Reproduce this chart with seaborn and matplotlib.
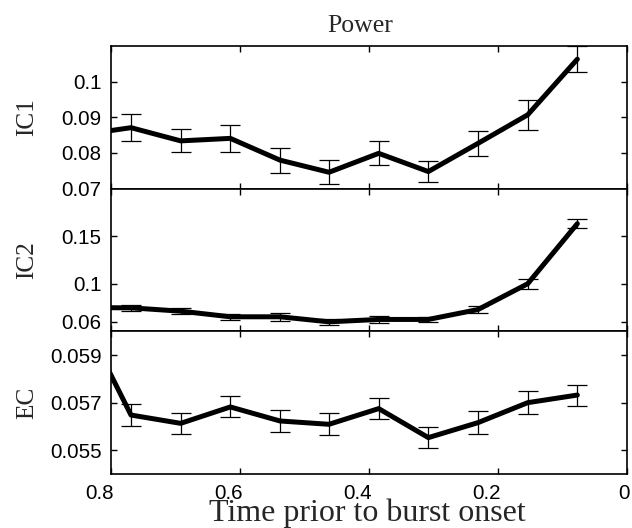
import matplotlib
matplotlib.use("Agg")
import matplotlib.pyplot as plt
import seaborn as sns
import pandas as pd
from matplotlib.transforms import ScaledTranslation

# ---- data ----
times = [0.077, 0.154, 0.231, 0.308, 0.385, 0.462, 0.538, 0.615, 0.692, 0.769, 0.846]

ic1 = [0.1063, 0.0907, 0.0827, 0.0748, 0.0799, 0.0746, 0.0780, 0.0841, 0.0834, 0.0871, 0.0851]
ic1_err = [0.0037, 0.0042, 0.0035, 0.0030, 0.0034, 0.0034, 0.0035, 0.0038, 0.0032, 0.0038, 0.0038]

ic2 = [0.1632, 0.1000, 0.0729, 0.0625, 0.0625, 0.0600, 0.0653, 0.0653, 0.0712, 0.0747, 0.0750]
ic2_err = [0.0048, 0.0050, 0.0040, 0.0030, 0.0040, 0.0030, 0.0040, 0.0030, 0.0030, 0.0035, 0.0035]

ec = [0.05732, 0.05700, 0.05616, 0.05553, 0.05675, 0.05609, 0.05623, 0.05682, 0.05613, 0.05648, 0.06065]
ec_err = [0.00044, 0.00047, 0.00047, 0.00044, 0.00045, 0.00046, 0.00047, 0.00044, 0.00045, 0.00048, 0.00050]

panel_names = ["IC1", "IC2", "EC"]
ylims = [(0.07, 0.11), (0.05, 0.20), (0.054, 0.060)]
yticks = [[0.07, 0.08, 0.09, 0.1], [0.06, 0.1, 0.15], [0.055, 0.057, 0.059]]
yticklabels = [["0.07", "0.08", "0.09", "0.1"], ["0.06", "0.1", "0.15"], ["0.055", "0.057", "0.059"]]
xticks = [0.8, 0.6, 0.4, 0.2, 0]
xticklabels = ["0.8", "0.6", "0.4", "0.2", "0"]
title = "Power"
xlabel = "Time prior to burst onset"

series = [(ic1, ic1_err), (ic2, ic2_err), (ec, ec_err)]

# ---- style ----
sns.set_style("ticks")
plt.rcParams["font.family"] = ["Liberation Sans", "DejaVu Sans"]
plt.rcParams["axes.linewidth"] = 1.2

W, H = 632, 528
fig = plt.figure(figsize=(W / 100, H / 100), dpi=100)
left_px, right_px = 111, 627
top_px, bottom_px = 46, 474
ph = (bottom_px - top_px) / 3

axes = []
for i, ((vals, errs), name) in enumerate(zip(series, panel_names)):
    t = top_px + i * ph
    ax = fig.add_axes([left_px / W, 1 - (t + ph) / H, (right_px - left_px) / W, ph / H])
    axes.append(ax)
    df = pd.DataFrame({"time": times, "value": vals})
    ax.errorbar(times, vals, yerr=errs, fmt="none", ecolor="black",
                elinewidth=0.9, capsize=7.2, capthick=0.9, zorder=2)
    sns.lineplot(data=df, x="time", y="value", ax=ax, color="black",
                 linewidth=3.6, zorder=3)
    ax.set_xlim(0.8, 0)
    ax.set_ylim(*ylims[i])
    ax.set_yticks(yticks[i])
    ax.set_yticklabels(yticklabels[i])
    ax.set_xticks(xticks)
    ax.tick_params(axis="both", direction="in", top=True, right=True,
                   length=4, width=1.0, labelsize=14.8, colors="black")
    ax.tick_params(axis="y", pad=6.7)
    ax.tick_params(axis="x", pad=7.2)
    for s in ax.spines.values():
        s.set_color("black")
        s.set_linewidth(1.2)
    ax.set_ylabel(name, fontfamily=["Liberation Serif", "DejaVu Serif"], fontsize=18.2)
    ax.yaxis.label.set_va("center")
    ax.yaxis.set_label_coords(-0.163, 0.5)
    if i < 2:
        ax.tick_params(axis="x", labelbottom=False)
        ax.set_xlabel("")
    else:
        ax.set_xticklabels(xticklabels)
        off = ScaledTranslation(3 / 100, 0, fig.dpi_scale_trans)
        for lab in ax.get_xticklabels():
            lab.set_ha("right")
            lab.set_transform(lab.get_transform() + off)
        ax.set_xlabel(xlabel, fontfamily=["Liberation Serif", "DejaVu Serif"], fontsize=23)
        ax.xaxis.label.set_va("baseline")
        ax.xaxis.set_label_coords(0.497, -(521 - bottom_px) / ph)

axes[0].set_title(title, fontfamily=["Liberation Serif", "DejaVu Serif"], fontsize=18.5,
                  x=(360 - left_px) / (right_px - left_px), y=1 + (46 - 32.3) / ph, pad=0)

fig.savefig("out.png", dpi=100)
